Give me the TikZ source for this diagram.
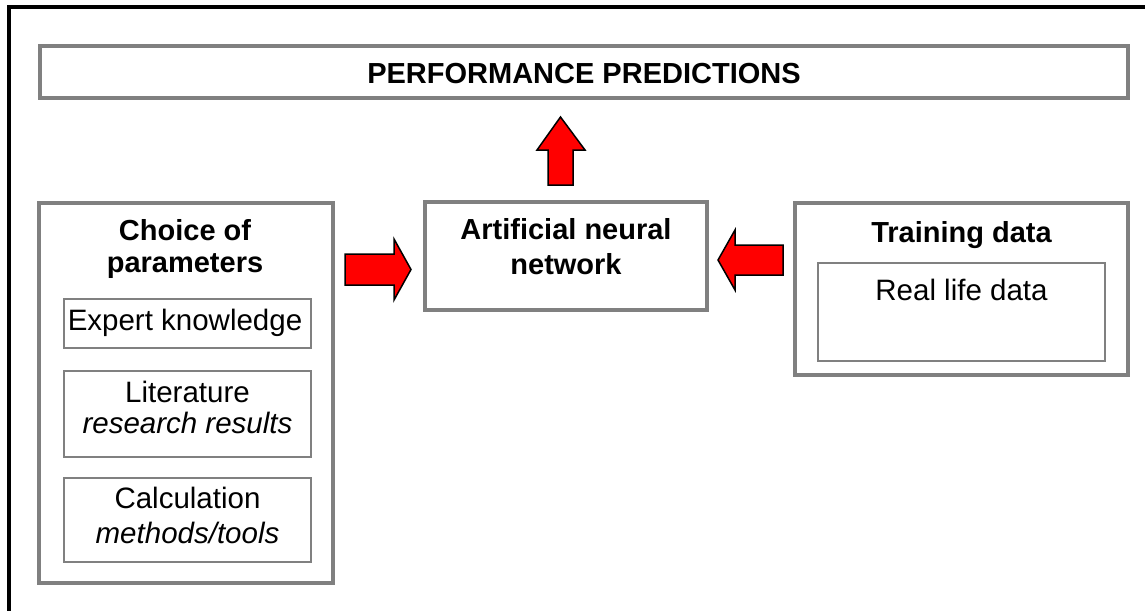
\documentclass[tikz,border=0pt]{standalone}
\usepackage{fontspec}
\setmainfont{Liberation Sans}
\definecolor{boxgray}{RGB}{128,128,128}
\begin{document}
\begin{tikzpicture}[x=1pt,y=-1pt,
  box/.style={draw=boxgray, line width=4pt, rectangle, inner sep=0pt, fill=white},
  subbox/.style={draw=boxgray, line width=2.5pt, rectangle, inner sep=0pt, fill=white},
  txt/.style={anchor=base, inner sep=0pt, font=\fontsize{29.5}{34}\selectfont},
  boldtxt/.style={anchor=base, inner sep=0pt, font=\fontsize{29}{34}\selectfont\bfseries},
  blockarrow/.style={fill=red, draw=black, line width=1.5pt, line join=miter}]
\useasboundingbox (0,0) rectangle (1145,610);

% outer frame (open to the right and bottom)
\draw[line width=3.5pt] (9,612) |- (1147,7);

% top result bar
\node[box, minimum width=1088pt, minimum height=52pt] (pred) at (584,72) {};
\node[boldtxt] (predtext) at (584,83) {PERFORMANCE PREDICTIONS};

% central network box
\node[box, minimum width=282pt, minimum height=108pt] (ann) at (566,256) {};
\node[boldtxt] (ann1) at (566,239) {Artificial neural};
\node[boldtxt] (ann2) at (566,274) {network};

% parameter sources
\node[box, minimum width=294pt, minimum height=380pt] (choice) at (186,393) {};
\node[boldtxt] (choice1) at (185,240) {Choice of};
\node[boldtxt] (choice2) at (185,272) {parameters};

\node[subbox, minimum width=247pt, minimum height=49pt] (expert) at (187.5,323.5) {};
\node[txt] (experttext) at (185,330) {Expert knowledge};

\node[subbox, minimum width=247pt, minimum height=86pt] (lit) at (187.5,414) {};
\node[txt] (lit1) at (187.5,402) {Literature};
\node[txt] (lit2) at (187.5,433) {\itshape research results};

\node[subbox, minimum width=247pt, minimum height=84pt] (calc) at (187.5,520) {};
\node[txt] (calc1) at (187.5,508) {Calculation};
\node[txt] (calc2) at (187.5,543) {\itshape methods/tools};

% training data
\node[box, minimum width=333pt, minimum height=172pt] (train) at (961.5,289) {};
\node[boldtxt] (traintext) at (961.5,242) {Training data};
\node[subbox, minimum width=287pt, minimum height=98pt] (real) at (961.5,312) {};
\node[txt] (realtext) at (961.5,300) {Real life data};

% block arrows
\draw[blockarrow] (548,185) -- (548,150) -- (537,150) -- (560.5,117)
  -- (585,150) -- (573,150) -- (573,185) -- cycle;
\draw[blockarrow] (345,254) -- (394,254) -- (394,239) -- (411,269.5)
  -- (394,300) -- (394,285) -- (345,285) -- cycle;
\draw[blockarrow] (783,245) -- (735,245) -- (735,230) -- (718,260)
  -- (735,290) -- (735,275) -- (783,275) -- cycle;
\end{tikzpicture}
\end{document}
